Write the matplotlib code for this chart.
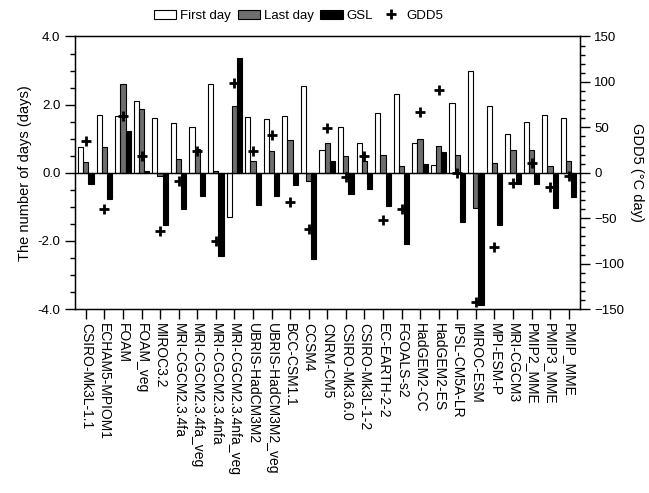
import numpy as np
import matplotlib
matplotlib.use('Agg')
import matplotlib.pyplot as plt
from matplotlib.ticker import MultipleLocator

plt.rcParams['font.family'] = ['Liberation Sans', 'DejaVu Sans']

# 模型名称
models = ['CSIRO-Mk3L-1.1', 'ECHAM5-MPIOM1', 'FOAM', 'FOAM_veg', 'MIROC3.2',
          'MRI-CGCM2.3.4fa', 'MRI-CGCM2.3.4fa_veg', 'MRI-CGCM2.3.4nfa',
          'MRI-CGCM2.3.4nfa_veg', 'UBRIS-HadCM3M2', 'UBRIS-HadCM3M2_veg',
          'BCC-CSM1.1', 'CCSM4', 'CNRM-CM5', 'CSIRO-Mk3.6.0', 'CSIRO-Mk3L-1-2',
          'EC-EARTH-2-2', 'FGOALS-s2', 'HadGEM2-CC', 'HadGEM2-ES', 'IPSL-CM5A-LR',
          'MIROC-ESM', 'MPI-ESM-P', 'MRI-CGCM3', 'PMIP2_MME', 'PMIP3_MME', 'PMIP_MME']

first_day = [0.77, 1.70, 1.66, 2.10, 1.60, 1.47, 1.34, 2.62, -1.30, 1.64, 1.58,
             1.66, 2.54, 0.67, 1.33, 0.88, 1.76, 2.30, 0.87, 0.23, 2.05,
             2.99, 1.96, 1.15, 1.49, 1.69, 1.60]
last_day = [0.32, 0.77, 2.62, 1.86, -0.08, 0.40, 0.70, 0.06, 1.97, 0.34, 0.63,
            0.97, -0.23, 0.87, 0.50, 0.34, 0.53, 0.19, 0.98, 0.79, 0.51,
            -1.04, 0.29, 0.66, 0.67, 0.21, 0.35]
gsl = [-0.33, -0.76, 1.23, 0.06, -1.54, -1.05, -0.68, -2.45, 3.36, -0.95, -0.68,
       -0.37, -2.54, 0.36, -0.62, -0.47, -0.98, -2.10, 0.26, 0.61, -1.43,
       -3.87, -1.54, -0.33, -0.33, -1.02, -0.70]
gdd5 = [34.7, -39.5, 62.4, 19.0, -64.0, -8.5, 24.5, -74.7, 98.7, 23.5, 41.6,
        -31.8, -62.0, 48.9, -4.5, 19.0, -51.8, -39.5, 67.4, 91.5, -0.5,
        -142.0, -81.6, -11.0, 10.7, -15.5, -3.0]


def main():
    x = np.arange(len(models))
    w = 0.28
    fig = plt.figure(figsize=(6.49, 4.93), dpi=100)
    ax = fig.add_axes([0.1156, 0.373, 0.7775, 0.553])
    ax.bar(x - w, first_day, w, color='white', edgecolor='black', linewidth=0.8, label='First day')
    ax.bar(x, last_day, w, color='#6e6e6e', edgecolor='black', linewidth=0.8, label='Last day')
    ax.bar(x + w, gsl, w, color='black', edgecolor='black', linewidth=0.8, label='GSL')
    ax.axhline(0, color='black', linewidth=1.0)
    ax.set_xlim(-0.58, 26.59)
    ax.set_ylim(-4, 4)
    ax.yaxis.set_minor_locator(MultipleLocator(0.5))
    ax.set_yticks([-4, -2, 0, 2, 4])
    ax.set_yticklabels(['-4.0', '-2.0', '0.0', '2.0', '4.0'])
    ax.set_xticks(x)
    ax.set_xticklabels(models, rotation=270, fontsize=10)
    ax.tick_params(axis='x', direction='out', length=7, width=1, top=False, pad=3)
    ax.tick_params(axis='y', which='major', direction='out', length=7, width=1, labelsize=9.5)
    ax.tick_params(axis='y', which='minor', direction='out', length=3.6, width=1)
    ax.set_ylabel('The number of days (days)', fontsize=10.5)
    for s in ax.spines.values():
        s.set_linewidth(1.0)

    ax2 = ax.twinx()
    ax2.plot(x, gdd5, linestyle='none', marker='+', markersize=7.5,
             markeredgewidth=2.0, color='black', label='GDD5')
    ax2.set_ylim(-150, 150)
    ax2.yaxis.set_major_locator(MultipleLocator(50))
    ax2.yaxis.set_minor_locator(MultipleLocator(10))
    ax2.tick_params(axis='y', which='major', direction='out', length=7, width=1, labelsize=9.5)
    ax2.tick_params(axis='y', which='minor', direction='out', length=3.6, width=1)
    ax2.set_ylabel('GDD5 (\u00b0C day)', rotation=270, labelpad=14, fontsize=10.5)

    h1, l1 = ax.get_legend_handles_labels()
    h2, l2 = ax2.get_legend_handles_labels()
    fig.legend(h1 + h2, l1 + l2, loc='center', bbox_to_anchor=(0.46, 0.968), ncol=4,
               frameon=False, fontsize=9.5, handlelength=1.7, handleheight=0.7,
               columnspacing=0.5, handletextpad=0.3)
    fig.savefig('out.png', dpi=100)


if __name__ == "__main__":
    main()
